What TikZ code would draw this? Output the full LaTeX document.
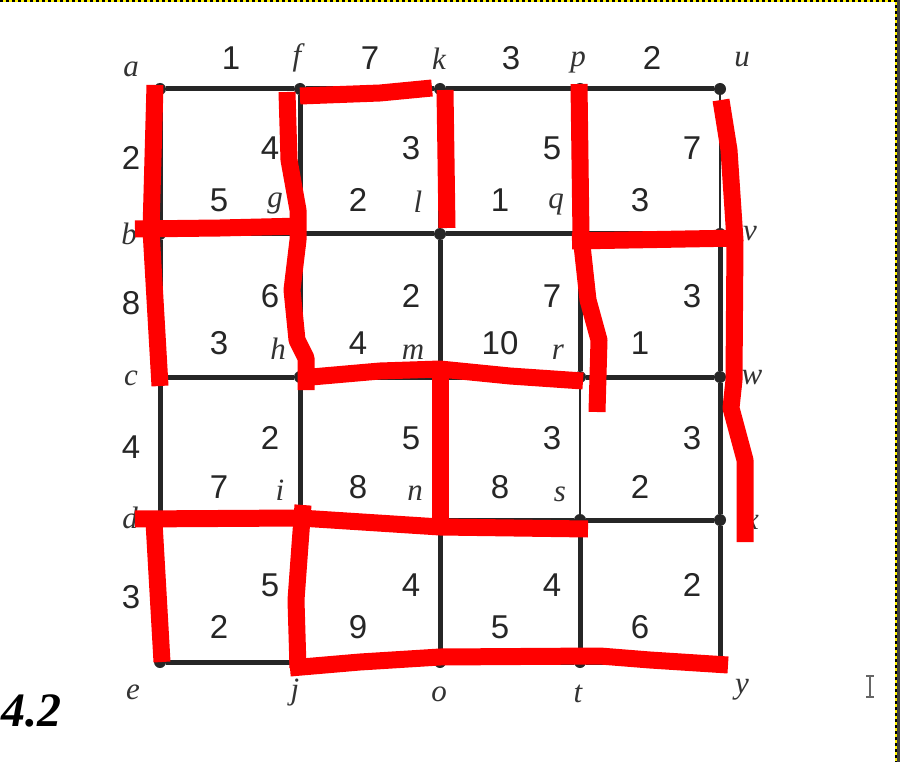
\documentclass[tikz,border=0pt]{standalone}
\usepackage{fontspec}
\setmainfont{Liberation Serif}
\setsansfont{Liberation Sans}
\begin{document}
\begin{tikzpicture}[x=1pt,y=-1pt]
	\tikzstyle{sommet}=[circle,fill=black!85,inner sep=0pt,minimum size=12pt]
	\tikzstyle{lettre}=[inner sep=0pt,font=\fontsize{31}{31}\selectfont\itshape,text=black!80]
	\tikzstyle{poids}=[inner sep=0pt,font=\sffamily\fontsize{33}{33}\selectfont,text=black!85]
	\tikzstyle{trait}=[line width=5pt,draw=black!85]
	\tikzstyle{fin}=[line width=1.2pt,draw=black!85]
	\tikzstyle{rouge}=[line width=17pt,draw=red,line join=round]
	\useasboundingbox (0,0) rectangle (900,762);
	\fill[white] (0,0) rectangle (900,762);
	% bord de la fenetre
	\fill[black!75] (897,0) rectangle (900,762);
	\draw[yellow,line width=2pt] (0,1) -- (896,1) -- (896,762);
	\draw[black,line width=2pt,dash pattern=on 3pt off 3pt] (0,1) -- (896,1) -- (896,762);
	% sommets
	\node[sommet] (a) at (160,89){};
	\node[sommet] (b) at (160,234){};
	\node[sommet] (c) at (160,377){};
	\node[sommet] (d) at (160,520){};
	\node[sommet] (e) at (160,662){};
	\node[sommet] (f) at (300,89){};
	\node[sommet] (g) at (300,234){};
	\node[sommet] (h) at (300,377){};
	\node[sommet] (i) at (300,520){};
	\node[sommet] (j) at (300,662){};
	\node[sommet] (k) at (440,89){};
	\node[sommet] (l) at (440,234){};
	\node[sommet] (m) at (440,377){};
	\node[sommet] (n) at (440,520){};
	\node[sommet] (o) at (440,662){};
	\node[sommet] (p) at (580,89){};
	\node[sommet] (q) at (580,234){};
	\node[sommet] (r) at (580,377){};
	\node[sommet] (s) at (580,520){};
	\node[sommet] (t) at (580,662){};
	\node[sommet] (u) at (720,89){};
	\node[sommet] (v) at (720,234){};
	\node[sommet] (w) at (720,377){};
	\node[sommet] (x) at (720,520){};
	\node[sommet] (y) at (720,662){};
	% aretes
	\draw[trait] (a) -- (f) -- (k) -- (p) -- (u);
	\draw[trait] (b) -- (g) -- (l) -- (q) -- (v);
	\draw[trait] (c) -- (h) -- (m) -- (r) -- (w);
	\draw[trait] (d) -- (i) -- (n) -- (s) -- (x);
	\draw[trait] (e) -- (j) -- (o) -- (t) -- (y);
	\draw[trait] (a) -- (b) -- (c) -- (d) -- (e);
	\draw[trait] (f) -- (g) -- (h) -- (i) -- (j);
	\draw[trait] (k) -- (l) -- (m) -- (n) -- (o);
	\draw[trait] (p) -- (q) -- (r);
	\draw[fin] (r) -- (s);
	\draw[trait] (s) -- (t);
	\draw[fin] (u) -- (v);
	\draw[trait] (v) -- (w) -- (x) -- (y);
	% noms des sommets
	\node[lettre] (la) at (131,69){a};
	\node[lettre] (lf) at (297,58){f};
	\node[lettre] (lk) at (439,59){k};
	\node[lettre] (lp) at (578,62){p};
	\node[lettre] (lu) at (742,60){u};
	\node[lettre] (lb) at (129,234){b};
	\node[lettre] (lg) at (275,204){g};
	\node[lettre] (ll) at (418,202){l};
	\node[lettre] (lq) at (556,204){q};
	\node[lettre] (lv) at (750,234){v};
	\node[lettre] (lc) at (131,378){c};
	\node[lettre] (lh) at (278,349){h};
	\node[lettre] (lm) at (413,352){m};
	\node[lettre] (lr) at (558,352){r};
	\node[lettre] (lw) at (752,378){w};
	\node[lettre] (ld) at (130,518){d};
	\node[lettre] (li) at (280,490){i};
	\node[lettre] (ln) at (415,493){n};
	\node[lettre] (ls) at (560,494){s};
	\node[lettre] (lx) at (752,522){x};
	\node[lettre] (le) at (133,692){e};
	\node[lettre] (lj) at (295,693){j};
	\node[lettre] (lo) at (439,694){o};
	\node[lettre] (lt) at (578,694){t};
	\node[lettre] (ly) at (742,690){y};
	% poids
	\node[poids] (paf) at (231,58){1};
	\node[poids] (pfk) at (370,58){7};
	\node[poids] (pkp) at (511,58){3};
	\node[poids] (ppu) at (652,58){2};
	\node[poids] (pab) at (131,158){2};
	\node[poids] (pbc) at (131,303){8};
	\node[poids] (pcd) at (131,447){4};
	\node[poids] (pde) at (131,597){3};
	\node[poids] (pfg) at (270,148){4};
	\node[poids] (pbg) at (219,200){5};
	\node[poids] (pkl) at (411,148){3};
	\node[poids] (pgl) at (358,200){2};
	\node[poids] (ppq) at (552,148){5};
	\node[poids] (plq) at (500,200){1};
	\node[poids] (puv) at (692,148){7};
	\node[poids] (pqv) at (640,200){3};
	\node[poids] (pgh) at (270,296){6};
	\node[poids] (pch) at (219,343){3};
	\node[poids] (plm) at (411,296){2};
	\node[poids] (phm) at (358,343){4};
	\node[poids] (pqr) at (552,296){7};
	\node[poids] (pmr) at (500,343){10};
	\node[poids] (pvw) at (692,296){3};
	\node[poids] (prw) at (640,343){1};
	\node[poids] (phi) at (270,438){2};
	\node[poids] (pdi) at (219,487){7};
	\node[poids] (pmn) at (411,438){5};
	\node[poids] (pin) at (358,487){8};
	\node[poids] (prs) at (552,438){3};
	\node[poids] (pns) at (500,487){8};
	\node[poids] (pwx) at (692,438){3};
	\node[poids] (psx) at (640,487){2};
	\node[poids] (pij) at (270,585){5};
	\node[poids] (pej) at (219,627){2};
	\node[poids] (pno) at (411,585){4};
	\node[poids] (pjo) at (358,627){9};
	\node[poids] (pst) at (552,585){4};
	\node[poids] (pot) at (500,627){5};
	\node[poids] (pxy) at (692,585){2};
	\node[poids] (pty) at (640,627){6};
	\node[anchor=west,inner sep=0pt,font=\fontsize{48}{48}\selectfont\bfseries\itshape] (fig) at (1,711){4.2};
	% curseur
	\draw[black!60,line width=1.2pt] (870,676) -- (870,697);
	\draw[black!60,line width=1.2pt] (866,676) -- (874,676);
	\draw[black!60,line width=1.2pt] (866,697) -- (874,697);
	% traits rouges
	\draw[rouge] (155,85) -- (151,230) -- (160,386);
	\draw[rouge] (135,229) -- (220,228) -- (303,226);
	\draw[rouge] (287,92) -- (289,160) -- (298,210) -- (298,240) -- (292,290) -- (297,340) -- (306,358) -- (306,390);
	\draw[rouge] (300,96) -- (380,93) -- (432,88);
	\draw[rouge] (445,90) -- (447,228);
	\draw[rouge] (300,378) -- (380,371) -- (440,369) -- (510,376) -- (583,381);
	\draw[rouge] (440,372) -- (440,520);
	\draw[rouge] (579,84) -- (581,236) -- (588,300) -- (599,340) -- (597,412);
	\draw[rouge] (572,241) -- (742,238);
	\draw[rouge] (721,100) -- (729,150) -- (735,240) -- (734,380) -- (731,408) -- (745,460) -- (745,542);
	\draw[rouge] (135,519) -- (300,518) -- (440,527) -- (588,529);
	\draw[rouge] (154,522) -- (162,662);
	\draw[rouge] (303,505) -- (300,545) -- (296,600) -- (298,668);
	\draw[rouge] (290,668) -- (360,662) -- (440,657) -- (600,656) -- (650,660) -- (728,665);
\end{tikzpicture}
\end{document}
